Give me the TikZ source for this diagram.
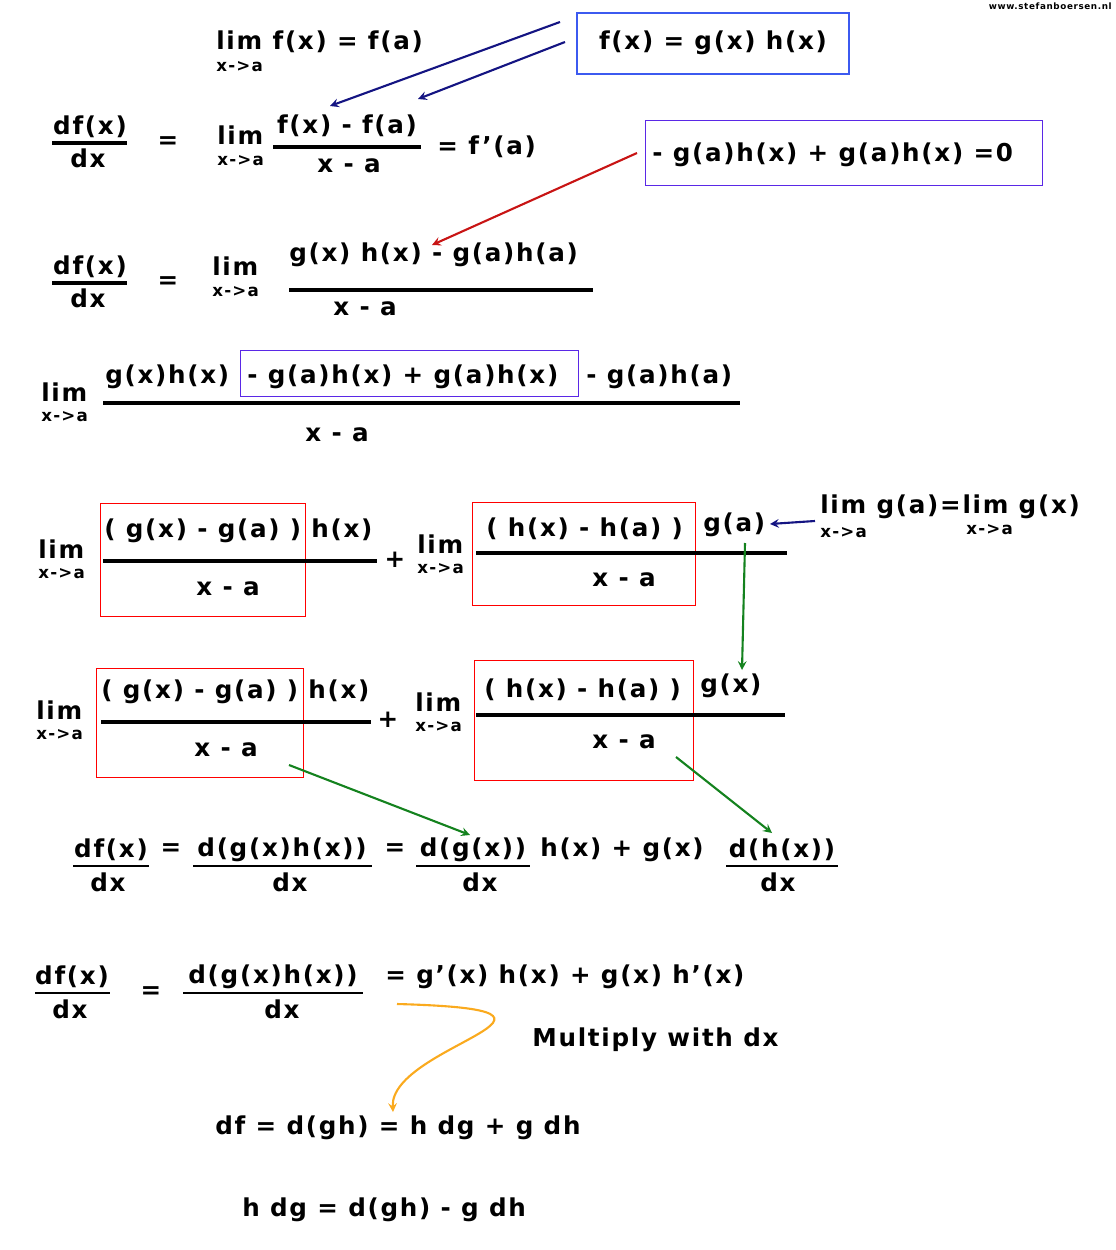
\documentclass[tikz,border=0pt]{standalone}
\usepackage{fontspec}
\setmainfont{DejaVu Sans}[LetterSpace=7]
\usetikzlibrary{positioning}
\definecolor{navyarrow}{RGB}{20,20,130}
\definecolor{boxblue}{RGB}{60,90,240}
\definecolor{boxviolet}{RGB}{90,40,230}
\definecolor{arrowred}{RGB}{200,20,20}
\definecolor{arrowgreen}{RGB}{20,130,30}
\definecolor{arroworange}{RGB}{250,170,30}
\newcommand{\pr}{{\char"27}}
\tikzset{
    txt/.style={anchor=west, inner sep=0pt, font=\fontsize{14}{16}\selectfont\bfseries},
    ctr/.style={inner sep=0pt, font=\fontsize{14}{16}\selectfont\bfseries},
    sub/.style={anchor=west, inner sep=0pt, font=\fontsize{9.5}{11}\selectfont\bfseries},
    frac/.style={line width=2pt},
    redbox/.style={draw=red, thin},
    arr/.style={->, >=stealth, line width=1.2pt}
}
\begin{document}
\begin{tikzpicture}[x=0.02cm, y=-0.02cm]
        \useasboundingbox (0,0) rectangle (1115,1250);
        \node[inner sep=0pt, anchor=north east, font=\tiny\bfseries] (site) at (1112,2) {www.stefanboersen.nl};
        % first line
        \node[txt] (lim1) at (216,42) {lim f(x) = f(a)};
        \node[sub] (sub1) at (216,67) {x->a};
        \draw[boxblue, thick] (577,13) rectangle (849,74);
        \node[ctr] (fgh) at (713,43) {f(x) = g(x) h(x)};
        \coordinate (b1) at (560,22); \coordinate (e1) at (330,106);
        \coordinate (b2) at (565,42); \coordinate (e2) at (418,99);
        \draw[arr, navyarrow] (b1) -- (e1);
        \draw[arr, navyarrow] (b2) -- (e2);
        % second line
        \node[ctr] (df2) at (90,127) {df(x)};
        \draw[frac] (52,143) -- (127,143);
        \node[ctr] (dx2) at (88,158) {dx};
        \node[ctr] (eq2) at (168,143) {=};
        \node[txt] (lim2) at (217,135) {lim};
        \node[sub] (sub2) at (217,161) {x->a};
        \node[ctr] (num2) at (347,126) {f(x) - f(a)};
        \draw[frac] (273,147) -- (421,147);
        \node[ctr] (den2) at (349,166) {x - a};
        \node[txt] (fp) at (437,147) {= f\pr(a)};
        \draw[boxviolet] (645,120) rectangle (1042,185);
        \node[txt] (zero) at (652,155) {- g(a)h(x) + g(a)h(x) =0};
        \coordinate (b3) at (637,153); \coordinate (e3) at (432,245);
        \draw[arr, arrowred] (b3) -- (e3);
        % third line
        \node[ctr] (df3) at (90,267) {df(x)};
        \draw[frac] (52,283) -- (127,283);
        \node[ctr] (dx3) at (88,298) {dx};
        \node[ctr] (eq3) at (168,283) {=};
        \node[txt] (lim3) at (212,266) {lim};
        \node[sub] (sub3) at (212,292) {x->a};
        \node[txt] (num3) at (289,255) {g(x) h(x) - g(a)h(a)};
        \draw[frac] (289,290) -- (593,290);
        \node[ctr] (den3) at (365,309) {x - a};
        % fourth line
        \node[txt] (lim4) at (41,392) {lim};
        \node[sub] (sub4) at (41,417) {x->a};
        \node[txt] (num4a) at (105,377) {g(x)h(x)};
        \draw[boxviolet] (240,350) rectangle (578,396);
        \node[txt] (num4b) at (247,377) {- g(a)h(x) + g(a)h(x)};
        \node[txt] (num4c) at (586,377) {- g(a)h(a)};
        \draw[frac] (103,403) -- (740,403);
        \node[ctr] (den4) at (337,435) {x - a};
        % fifth line
        \node[txt] (lim5) at (38,549) {lim};
        \node[sub] (sub5) at (38,574) {x->a};
        \draw[redbox] (100,503) rectangle (305,616);
        \node[txt] (num5a) at (104,531) {( g(x) - g(a) ) h(x)};
        \draw[frac] (103,561) -- (377,561);
        \node[ctr] (den5a) at (228,589) {x - a};
        \node[ctr] (plus5) at (395,560) {+};
        \node[txt] (lim5b) at (417,544) {lim};
        \node[sub] (sub5b) at (417,569) {x->a};
        \draw[redbox] (472,502) rectangle (695,605);
        \node[txt] (num5b) at (486,529) {( h(x) - h(a) )};
        \node[txt] (ga) at (703,525) {g(a)};
        \draw[frac] (476,553) -- (787,553);
        \node[ctr] (den5b) at (624,580) {x - a};
        \node[txt] (limg) at (820,507) {lim g(a)=lim g(x)};
        \node[sub] (sub5c) at (820,533) {x->a};
        \node[sub] (sub5d) at (966,530) {x->a};
        \coordinate (b4) at (815,521); \coordinate (e4) at (770,524);
        \draw[arr, navyarrow] (b4) -- (e4);
        \coordinate (b5) at (745,543); \coordinate (e5) at (742,670);
        \draw[arr, arrowgreen] (b5) -- (e5);
        % sixth line
        \node[txt] (lim6) at (36,710) {lim};
        \node[sub] (sub6) at (36,735) {x->a};
        \draw[redbox] (96,668) rectangle (303,777);
        \node[txt] (num6a) at (101,692) {( g(x) - g(a) ) h(x)};
        \draw[frac] (101,722) -- (371,722);
        \node[ctr] (den6a) at (226,750) {x - a};
        \node[ctr] (plus6) at (388,720) {+};
        \node[txt] (lim6b) at (415,702) {lim};
        \node[sub] (sub6b) at (415,727) {x->a};
        \draw[redbox] (474,660) rectangle (693,780);
        \node[txt] (num6b) at (484,690) {( h(x) - h(a) )};
        \node[txt] (gx) at (700,686) {g(x)};
        \draw[frac] (476,715) -- (785,715);
        \node[ctr] (den6b) at (624,742) {x - a};
        \coordinate (b6) at (289,765); \coordinate (e6) at (470,835);
        \coordinate (b7) at (676,757); \coordinate (e7) at (772,833);
        \draw[arr, arrowgreen] (b6) -- (e6);
        \draw[arr, arrowgreen] (b7) -- (e7);
        % seventh line
        \node[ctr] (df7) at (111,850) {df(x)};
        \draw[thick] (73,866) -- (149,866);
        \node[ctr] (dx7) at (108,882) {dx};
        \node[ctr] (eq7a) at (171,850) {=};
        \node[ctr] (dgh7) at (282,850) {d(g(x)h(x))};
        \draw[thick] (193,866) -- (372,866);
        \node[ctr] (dx7b) at (290,882) {dx};
        \node[ctr] (eq7b) at (395,850) {=};
        \node[ctr] (dg7) at (473,850) {d(g(x))};
        \draw[thick] (416,866) -- (530,866);
        \node[ctr] (dx7c) at (480,882) {dx};
        \node[txt] (mid7) at (540,850) {h(x) + g(x)};
        \node[ctr] (dh7) at (782,850) {d(h(x))};
        \draw[thick] (726,866) -- (838,866);
        \node[ctr] (dx7d) at (778,882) {dx};
        % eighth line
        \node[ctr] (df8) at (72,977) {df(x)};
        \draw[thick] (35,993) -- (110,993);
        \node[ctr] (dx8) at (70,1009) {dx};
        \node[ctr] (eq8) at (151,993) {=};
        \node[ctr] (dgh8) at (273,977) {d(g(x)h(x))};
        \draw[thick] (183,993) -- (363,993);
        \node[ctr] (dx8b) at (282,1009) {dx};
        \node[txt] (res8) at (385,977) {= g\pr(x) h(x) + g(x) h\pr(x)};
        \coordinate (b8) at (397,1004); \coordinate (e8) at (393,1112);
        \draw[arr, arroworange] (b8) .. controls (620,1010) and (390,1045) .. (e8);
        \node[txt] (mult) at (532,1040) {Multiply with dx};
        % last lines
        \node[txt] (dfgh) at (215,1128) {df = d(gh) = h dg + g dh};
        \node[txt] (hdg) at (242,1210) {h dg = d(gh) - g dh};
\end{tikzpicture}
\end{document}
